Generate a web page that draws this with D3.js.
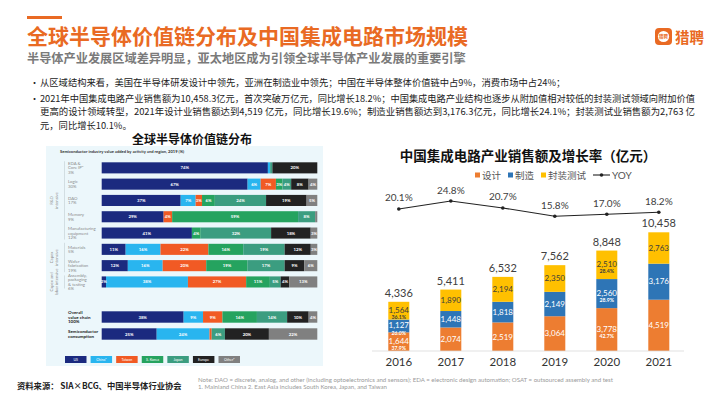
<!DOCTYPE html>
<html>
<head>
<meta charset="utf-8">
<script src="https://cdn.jsdelivr.net/npm/d3@7"></script>
<style>
  html, body { margin: 0; padding: 0; background: #fff; }
  svg { display: block; }
</style>
</head>
<body>
<div id="chart"></div>
<script>
// ---- page text ----
const pageTitle = '全球半导体价值链分布及中国集成电路市场规模';
const pageSubtitle = '半导体产业发展区域差异明显，亚太地区成为引领全球半导体产业发展的重要引擎';
const bulletLines = [
  { bullet: true, text: '从区域结构来看，美国在半导体研发设计中领先，亚洲在制造业中领先；中国在半导体整体价值链中占9%，消费市场中占24%；' },
  { bullet: true, text: '2021年中国集成电路产业销售额为10,458.3亿元，首次突破万亿元，同比增长18.2%；中国集成电路产业结构也逐步从附加值相对较低的封装测试领域向附加价值' },
  { bullet: false, text: '更高的设计领域转型，2021年设计业销售额达到4,519 亿元，同比增长19.6%；制造业销售额达到3,176.3亿元，同比增长24.1%；封装测试业销售额为2,763 亿' },
  { bullet: false, text: '元，同比增长10.1%。' }
];
const sourceText = '资料来源： SIA×BCG、中国半导体行业协会';
const noteLines = [
  'Note: DAO = discrete, analog, and other (including optoelectronics and sensors); EDA = electronic design automation; OSAT = outsourced assembly and test',
  '1. Mainland China 2. East Asia includes South Korea, Japan, and Taiwan'
];

// ---- left chart: value chain by region ----
const regions = ['US', 'China¹', 'Taiwan', 'S. Korea', 'Japan', 'Europe', 'Other²'];
const regionColors = ['#1b2a7f', '#29b5ef', '#f15a24', '#25a35f', '#3b9d80', '#222222', '#808080'];
const activityLabels = [
  ['EDA &', 'Core IP¹', '3%'],
  ['Logic', '30%'],
  ['DAO', '17%'],
  ['Memory', '9%'],
  ['Manufacturing', 'equipment', '12%'],
  ['Materials', '5%'],
  ['Wafer', 'fabrication', '19%'],
  ['Assembly,', 'packaging', '& testing', '6%']
];
const activityShares = [
  [74, 1, 0, 0, 1, 20, 0],
  [67, 6, 7, 3, 4, 8, 4],
  [37, 7, 3, 6, 24, 19, 5],
  [29, 0, 4, 59, 8, 0, 1],
  [41, 0, 0, 4, 32, 18, 3],
  [11, 16, 22, 16, 19, 12, 3],
  [12, 16, 20, 19, 17, 9, 6],
  [2, 38, 27, 11, 5, 4, 13]
];
const summaryLabels = [['Overall', 'value chain', '100%'], ['Semiconductor', 'consumption']];
const summaryShares = [
  [38, 9, 9, 16, 14, 10, 4],
  [25, 24, 1, 0, 6, 20, 22]
];
const activityGroups = [
  { lines: ['R&D', 'intensive'], from: 0, to: 4 },
  { lines: ['Capex', 'intensive'], from: 5, to: 6 },
  { lines: ['Capex and', 'labor intensive'], from: 7, to: 7 }
];

// ---- right chart: China IC sales ----
const years = ['2016', '2017', '2018', '2019', '2020', '2021'];
const designSales = [1644, 2074, 2519, 3064, 3778, 4519];
const fabSales = [1127, 1448, 1818, 2149, 2560, 3176];
const packagingSales = [1564, 1890, 2194, 2350, 2510, 2763];
const totalSales = [4336, 5411, 6532, 7562, 8848, 10458];
const yoyGrowth = [20.1, 24.8, 20.7, 15.8, 17.0, 18.2];
const shareYears = ['2016', '2020'];
const seriesNames = ['设计', '制造', '封装测试'];
const seriesColors = ['#ed7d31', '#2e75b6', '#ffc000'];

const CJK = '"Noto Sans CJK SC", "Noto Sans", sans-serif';
const LATIN = 'Lato, "Noto Sans", sans-serif';
const ORANGE = '#e96a23';

const W = 710, H = 399;
const svg = d3.select('#chart').append('svg')
  .attr('width', W).attr('height', H)
  .attr('viewBox', `0 0 ${W} ${H}`);

svg.append('rect').attr('width', W).attr('height', H).attr('fill', '#fff');

// header
svg.append('rect').attr('x', 27).attr('y', 16).attr('width', 35).attr('height', 3).attr('fill', ORANGE);
svg.append('text').attr('x', 27).attr('y', 44).text(pageTitle)
  .attr('font-family', CJK).attr('font-weight', 'bold').attr('font-size', 21).attr('fill', ORANGE);
svg.append('text').attr('x', 27).attr('y', 62.5).text(pageSubtitle)
  .attr('font-family', CJK).attr('font-weight', 'bold').attr('font-size', 12.2).attr('fill', '#7a7a7a');

// logo
const logo = svg.append('g').attr('transform', 'translate(655,28)');
logo.append('rect').attr('width', 17).attr('height', 17).attr('rx', 4).attr('fill', ORANGE);
logo.append('circle').attr('cx', 8.5).attr('cy', 8.5).attr('r', 5.6).attr('fill', '#fff');
logo.append('text').attr('x', 8.5).attr('y', 10.2).attr('text-anchor', 'middle').text('猎聘')
  .attr('font-family', CJK).attr('font-weight', 'bold').attr('font-size', 4.4).attr('fill', ORANGE);
svg.append('text').attr('x', 675).attr('y', 42.5).text('猎聘')
  .attr('font-family', CJK).attr('font-weight', 'bold').attr('font-size', 14.5).attr('fill', ORANGE);

// bullets
const bulletY = [85.5, 101.5, 115, 128.5];
bulletLines.forEach((d, i) => {
  if (d.bullet) {
    svg.append('text').attr('x', 30).attr('y', bulletY[i]).text('•')
      .attr('font-family', CJK).attr('font-size', 9).attr('fill', '#222');
  }
  const t = svg.append('text').attr('x', 40).attr('y', bulletY[i]).text(d.text)
    .attr('font-family', CJK).attr('font-size', 9.3).attr('fill', '#222');
  if (i === 1 || i === 2) t.attr('textLength', 655).attr('lengthAdjust', 'spacingAndGlyphs');
});

// ================= left chart =================
svg.append('text').attr('x', 192).attr('y', 143.5).attr('text-anchor', 'middle').text('全球半导体价值链分布')
  .attr('font-family', CJK).attr('font-weight', 'bold').attr('font-size', 12).attr('fill', '#111');

svg.append('rect').attr('x', 46).attr('y', 146).attr('width', 277).attr('height', 220).attr('fill', '#ecf7fb');
svg.append('text').attr('x', 60).attr('y', 153.2)
  .text('Semiconductor industry value added by activity and region, 2019 (%)')
  .attr('font-family', LATIN).attr('font-weight', 'bold').attr('font-size', 4.1).attr('fill', '#333');

const xLeft = [101.7, 317.3];
const rowY = d3.scaleBand().domain(d3.range(activityShares.length))
  .range([159.7, 290.1]).paddingInner(0.32).paddingOuter(0.16);
const sumY = d3.scaleBand().domain(d3.range(summaryShares.length))
  .range([308.5, 342.5]).paddingInner(0.33).paddingOuter(0.165);

function drawShareRow(g, shares, y0, h) {
  const total = d3.sum(shares);
  const x = d3.scaleLinear().domain([0, total]).range(xLeft);
  const cum = d3.cumsum(shares);
  const segs = shares.map((v, j) => ({ v, j, a: cum[j] - v, b: cum[j] }));
  g.selectAll(null).data(segs.filter(s => s.v > 0)).join('rect')
    .attr('x', s => x(s.a)).attr('y', y0)
    .attr('width', s => x(s.b) - x(s.a)).attr('height', h)
    .attr('fill', s => regionColors[s.j]);
  g.selectAll(null).data(segs.filter(s => s.v >= 2)).join('text')
    .attr('x', s => (x(s.a) + x(s.b)) / 2).attr('y', y0 + h / 2 + 1.5)
    .attr('text-anchor', 'middle').text(s => s.v + '%')
    .attr('font-family', LATIN).attr('font-weight', 'bold').attr('font-size', 4.3).attr('fill', '#fff');
}

function drawRowLabel(lines, yc, bold) {
  const lh = bold ? 4.8 : 4.6;
  const t = svg.append('text').attr('font-family', LATIN)
    .attr('font-size', bold ? 4.5 : 4.3)
    .attr('font-weight', bold ? 'bold' : 'normal')
    .attr('fill', bold ? '#222' : '#8a8a8a');
  lines.forEach((s, k) => {
    t.append('tspan').attr('x', 68)
      .attr('y', yc - (lines.length - 1) * lh / 2 + k * lh + 1.5).text(s);
  });
}

const leftRows = svg.append('g');
activityShares.forEach((shares, i) => {
  drawShareRow(leftRows.append('g'), shares, rowY(i), rowY.bandwidth());
  drawRowLabel(activityLabels[i], rowY(i) + rowY.bandwidth() / 2, false);
});
summaryShares.forEach((shares, i) => {
  drawShareRow(leftRows.append('g'), shares, sumY(i), sumY.bandwidth());
  drawRowLabel(summaryLabels[i], sumY(i) + sumY.bandwidth() / 2, true);
});

activityGroups.forEach(gr => {
  const y0 = rowY(gr.from) - 1, y1 = rowY(gr.to) + rowY.bandwidth() + 1;
  svg.append('line').attr('x1', 64.5).attr('x2', 64.5).attr('y1', y0).attr('y2', y1)
    .attr('stroke', '#b8c4c8').attr('stroke-width', 0.5);
  const yc = (y0 + y1) / 2;
  gr.lines.forEach((s, k) => {
    svg.append('text').attr('transform', `translate(${53 + k * 4.8},${yc}) rotate(-90)`)
      .attr('text-anchor', 'middle').text(s)
      .attr('font-family', LATIN).attr('font-size', 4.2).attr('fill', '#8a8a8a');
  });
});

// left legend
const legX = d3.scaleBand().domain(regions).range([65, 240]).paddingInner(0.16);
const leftLeg = svg.append('g');
leftLeg.selectAll('rect').data(regions).join('rect')
  .attr('x', d => legX(d)).attr('y', 356).attr('width', legX.bandwidth()).attr('height', 7)
  .attr('fill', (d, i) => regionColors[i]);
leftLeg.selectAll('text').data(regions).join('text')
  .attr('x', d => legX(d) + legX.bandwidth() / 2).attr('y', 360.9).attr('text-anchor', 'middle')
  .text(d => d).attr('font-family', LATIN).attr('font-size', 3.6).attr('fill', '#fff');

// ================= right chart =================
svg.append('text').attr('x', 528).attr('y', 161).attr('text-anchor', 'middle')
  .text('中国集成电路产业销售额及增长率（亿元）')
  .attr('font-family', CJK).attr('font-weight', 'bold').attr('font-size', 13.5).attr('fill', '#111');

const x = d3.scaleBand().domain(years).range([372.8, 684.8]).paddingInner(0.596).paddingOuter(0.298);
const y = d3.scaleLinear().domain([0, 12000]).range([351, 214.8]);
const yYoy = d3.scaleLinear().domain([15.8, 24.8]).range([216.3, 201]);

const table = years.map((yr, i) => ({ year: yr, s0: designSales[i], s1: fabSales[i], s2: packagingSales[i] }));
const stack = d3.stack().keys(['s0', 's1', 's2'])(table);

const barsG = svg.append('g');
stack.forEach((layer, k) => {
  barsG.append('g').selectAll('rect').data(layer).join('rect')
    .attr('x', d => x(d.data.year)).attr('width', x.bandwidth())
    .attr('y', d => y(d[1])).attr('height', d => y(d[0]) - y(d[1]))
    .attr('fill', seriesColors[k]);
});

// segment labels
stack.forEach((layer, k) => {
  const fill = k === 2 ? '#3d3d3d' : '#fff';
  layer.forEach((d, i) => {
    const cx = x(d.data.year) + x.bandwidth() / 2;
    const cy = (y(d[0]) + y(d[1])) / 2;
    const withShare = shareYears.includes(d.data.year);
    svg.append('text').attr('x', cx).attr('y', cy + 2.8 - (withShare ? 0.6 : 0))
      .attr('text-anchor', 'middle').text(d3.format(',')(d[1] - d[0]))
      .attr('font-family', LATIN).attr('font-size', 8).attr('fill', fill);
    if (withShare) {
      const share = (d[1] - d[0]) / totalSales[i] * 100;
      svg.append('text').attr('x', cx).attr('y', cy + 8.6)
        .attr('text-anchor', 'middle').text(share.toFixed(1) + '%')
        .attr('font-family', LATIN).attr('font-weight', 'bold').attr('font-size', 5.2).attr('fill', fill);
    }
  });
});

// axis baseline + years
svg.append('line').attr('x1', 372).attr('x2', 684).attr('y1', y(0)).attr('y2', y(0))
  .attr('stroke', '#d9d9d9').attr('stroke-width', 0.8);
const axisG = svg.append('g').attr('transform', `translate(0,${y(0)})`)
  .call(d3.axisBottom(x).tickSize(0).tickPadding(0));
axisG.select('.domain').remove();
axisG.selectAll('text').attr('dy', 0).attr('y', 14.5)
  .attr('font-family', LATIN).attr('font-size', 11.5).attr('fill', '#333');

// totals
svg.append('g').selectAll('text').data(years).join('text')
  .attr('x', d => x(d) + x.bandwidth() / 2)
  .attr('y', (d, i) => y(totalSales[i]) - 5)
  .attr('text-anchor', 'middle').text((d, i) => d3.format(',')(totalSales[i]))
  .attr('font-family', LATIN).attr('font-size', 11).attr('fill', '#404040');

// YOY line
const yoyLine = d3.line().x((d, i) => x(years[i]) + x.bandwidth() / 2).y(d => yYoy(d));
svg.append('path').datum(yoyGrowth).attr('d', yoyLine)
  .attr('fill', 'none').attr('stroke', '#222').attr('stroke-width', 1.1);
svg.append('g').selectAll('circle').data(yoyGrowth).join('circle')
  .attr('cx', (d, i) => x(years[i]) + x.bandwidth() / 2).attr('cy', d => yYoy(d))
  .attr('r', 1.8).attr('fill', '#222');
svg.append('g').selectAll('text').data(yoyGrowth).join('text')
  .attr('x', (d, i) => x(years[i]) + x.bandwidth() / 2).attr('y', d => yYoy(d) - 7.5)
  .attr('text-anchor', 'middle').text(d => d.toFixed(1) + '%')
  .attr('font-family', LATIN).attr('font-size', 10).attr('fill', '#404040');

// right legend
const legItems = [
  { name: seriesNames[0], color: seriesColors[0], x: 475 },
  { name: seriesNames[1], color: seriesColors[1], x: 508 },
  { name: seriesNames[2], color: seriesColors[2], x: 541 }
];
legItems.forEach(d => {
  svg.append('rect').attr('x', d.x).attr('y', 172.5).attr('width', 5).attr('height', 5).attr('fill', d.color);
  svg.append('text').attr('x', d.x + 7).attr('y', 178.5).text(d.name)
    .attr('font-family', CJK).attr('font-size', 9.5).attr('fill', '#555');
});
svg.append('line').attr('x1', 593).attr('x2', 610).attr('y1', 175).attr('y2', 175)
  .attr('stroke', '#222').attr('stroke-width', 1.1);
svg.append('circle').attr('cx', 601.5).attr('cy', 175).attr('r', 1.8).attr('fill', '#222');
svg.append('text').attr('x', 612).attr('y', 179).text('YOY')
  .attr('font-family', LATIN).attr('font-size', 10).attr('fill', '#555');

// footer
svg.append('text').attr('x', 17).attr('y', 388.5).text(sourceText)
  .attr('font-family', CJK).attr('font-weight', 'bold').attr('font-size', 8.3).attr('fill', '#222');
noteLines.forEach((s, i) => {
  svg.append('text').attr('x', 198).attr('y', 381.5 + i * 7).text(s)
    .attr('font-family', LATIN).attr('font-size', 6.1).attr('fill', '#9a9a9a');
});
</script>
</body>
</html>
